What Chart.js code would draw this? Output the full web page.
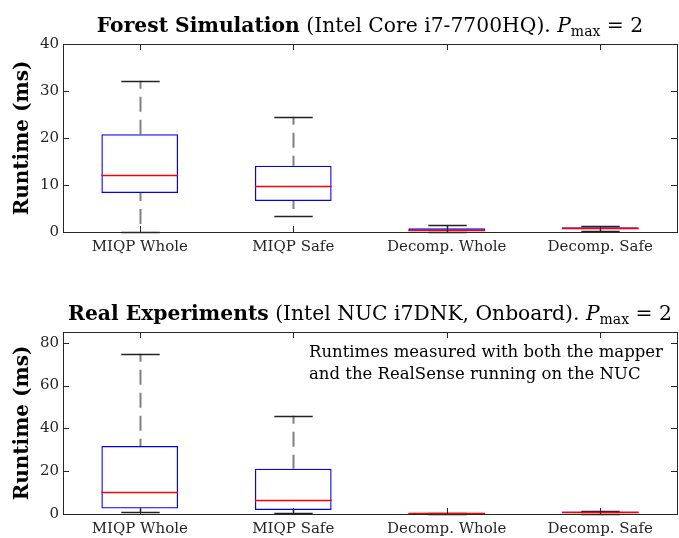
<!DOCTYPE html>
<html>
<head>
<meta charset="utf-8">
<script src="https://cdn.jsdelivr.net/npm/chart.js@4.4.1/dist/chart.umd.min.js"></script>
<style>
  html, body { margin: 0; padding: 0; background: #fff; }
  #wrap { position: relative; width: 679px; height: 538px; font-family: "DejaVu Serif", serif; }
  .box { position: absolute; left: 0; width: 679px; }
  .title { position: absolute; left: 63px; width: 614px; text-align: center; font-size: 20.3px; line-height: 24px; color: #000; white-space: nowrap; }
  .title b { font-weight: bold; }
  .title sub { font-size: 14px; vertical-align: -4px; line-height: 0; }
  .note { position: absolute; left: 309px; top: 341px; font-size: 16.5px; line-height: 22px; color: #000; }
</style>
</head>
<body>
<div id="wrap">
  <div class="box" style="top:0;height:262px"><canvas id="simChart"></canvas></div>
  <div class="box" style="top:262px;height:276px"><canvas id="realChart"></canvas></div>
  <div class="title" style="top:13px"><b>Forest Simulation</b> (Intel Core i7-7700HQ). <i>P</i><sub>max</sub> = 2</div>
  <div class="title" style="top:301px"><b>Real Experiments</b> (Intel NUC i7DNK, Onboard). <i>P</i><sub>max</sub> = 2</div>
  <div class="note">Runtimes measured with both the mapper<br>and the RealSense running on the NUC</div>
</div>
<script>
const categories = ['MIQP Whole', 'MIQP Safe', 'Decomp. Whole', 'Decomp. Safe'];

// Forest simulation (ms)
const simLow = [0.1, 3.5, 0.0, 0.2];
const simQ1 = [8.3, 6.6, 0.2, 0.6];
const simMedian = [12.1, 9.8, 0.5, 0.8];
const simQ3 = [20.8, 14.1, 0.8, 1.0];
const simHigh = [32.2, 24.5, 1.4, 1.3];
const simTicks = [0, 10, 20, 30, 40];

// Real experiments (ms)
const realLow = [1.1, 0.6, 0.0, 0.2];
const realQ1 = [2.6, 1.9, 0.1, 0.5];
const realMedian = [10.3, 6.5, 0.4, 0.9];
const realQ3 = [31.8, 21.1, 0.5, 1.2];
const realHigh = [74.9, 45.9, 0.5, 1.5];
const realTicks = [0, 20, 40, 60, 80];

const axisColor = '#262626';
Chart.defaults.font.family = '"DejaVu Serif", serif';
Chart.defaults.color = axisColor;

// whiskers, medians and the MATLAB style frame
const boxPlotParts = {
    id: 'boxPlotParts',
    beforeDatasetsDraw(chart, args, opts) {
        const { ctx, scales: { x, y } } = chart;
        const step = x.getPixelForValue(1) - x.getPixelForValue(0);
        ctx.save();
        opts.low.forEach((lo, i) => {
            const cx = Math.round(x.getPixelForValue(i)) + 0.5;
            const yLo = y.getPixelForValue(lo), yHi = y.getPixelForValue(opts.high[i]);
            const yQ1 = y.getPixelForValue(opts.q1[i]), yQ3 = y.getPixelForValue(opts.q3[i]);
            ctx.strokeStyle = '#808080';
            ctx.lineWidth = 2;
            ctx.setLineDash([15, 8]);
            ctx.lineDashOffset = 7;
            ctx.beginPath();
            ctx.moveTo(cx, yHi); ctx.lineTo(cx, yQ3);
            ctx.moveTo(cx, yQ1); ctx.lineTo(cx, yLo);
            ctx.stroke();
            ctx.setLineDash([]);
            ctx.strokeStyle = '#222';
            ctx.lineWidth = 1.3;
            ctx.beginPath();
            ctx.moveTo(cx - step / 8, Math.round(yHi) + 0.5); ctx.lineTo(cx + step / 8, Math.round(yHi) + 0.5);
            ctx.moveTo(cx - step / 8, Math.round(yLo) + 0.5); ctx.lineTo(cx + step / 8, Math.round(yLo) + 0.5);
            ctx.stroke();
        });
        ctx.restore();
    },
    afterDatasetsDraw(chart, args, opts) {
        const { ctx, scales: { x, y } } = chart;
        const step = x.getPixelForValue(1) - x.getPixelForValue(0);
        ctx.save();
        ctx.strokeStyle = '#ff0000';
        ctx.lineWidth = 1.3;
        opts.median.forEach((m, i) => {
            const cx = x.getPixelForValue(i);
            const my = Math.round(y.getPixelForValue(m)) + 0.5;
            ctx.beginPath();
            ctx.moveTo(cx - step / 4, my); ctx.lineTo(cx + step / 4, my);
            ctx.stroke();
        });
        ctx.restore();
    },
    afterDraw(chart) {
        const { ctx, chartArea: a, scales: { x, y } } = chart;
        ctx.save();
        ctx.strokeStyle = axisColor;
        ctx.lineWidth = 1;
        ctx.strokeRect(Math.round(a.left) + 0.5, Math.round(a.top) + 0.5, Math.round(a.width), Math.round(a.height));
        ctx.beginPath();
        y.ticks.forEach(t => {
            const py = Math.round(y.getPixelForValue(t.value)) + 0.5;
            ctx.moveTo(a.left, py); ctx.lineTo(a.left + 6, py);
            ctx.moveTo(a.right, py); ctx.lineTo(a.right - 6, py);
        });
        x.ticks.forEach((t, i) => {
            const px = Math.round(x.getPixelForValue(i)) + 0.5;
            ctx.moveTo(px, a.bottom); ctx.lineTo(px, a.bottom - 6);
            ctx.moveTo(px, a.top); ctx.lineTo(px, a.top + 6);
        });
        ctx.stroke();
        ctx.restore();
    }
};

function makeChart(id, low, q1, median, q3, high, yMax, tickValues, padTop, xHeight) {
    return new Chart(document.getElementById(id), {
        type: 'bar',
        data: {
            labels: categories,
            datasets: [{
                data: categories.map((c, i) => [q1[i], q3[i]]),
                backgroundColor: 'rgba(0,0,0,0)',
                borderColor: '#0000ff',
                borderWidth: 1.3,
                borderSkipped: false,
                barPercentage: 0.5,
                categoryPercentage: 1.0
            }]
        },
        options: {
            responsive: true,
            maintainAspectRatio: false,
            animation: false,
            layout: { padding: { top: padTop, right: 2, left: 0, bottom: 0 } },
            plugins: {
                legend: { display: false },
                tooltip: { enabled: false },
                boxPlotParts: { low, q1, median, q3, high }
            },
            scales: {
                x: {
                    offset: true,
                    grid: { drawOnChartArea: false, drawTicks: false, color: 'rgba(0,0,0,0)' },
                    border: { display: false },
                    ticks: { font: { size: 15 }, padding: 6, maxRotation: 0, autoSkip: false },
                    afterFit(scale) { scale.height = xHeight; }
                },
                y: {
                    min: 0,
                    max: yMax,
                    afterBuildTicks(scale) { scale.ticks = tickValues.map(v => ({ value: v })); },
                    grid: { drawOnChartArea: false, drawTicks: false, color: 'rgba(0,0,0,0)' },
                    border: { display: false },
                    ticks: { font: { size: 15 }, padding: 4 },
                    title: {
                        display: true,
                        text: 'Runtime (ms)',
                        color: '#000',
                        font: { size: 20, weight: 'bold' },
                        padding: { top: 11, bottom: 0 }
                    },
                    afterFit(scale) { scale.width = 63; }
                }
            }
        },
        plugins: [boxPlotParts]
    });
}

makeChart('simChart', simLow, simQ1, simMedian, simQ3, simHigh, 40, simTicks, 44, 30);
makeChart('realChart', realLow, realQ1, realMedian, realQ3, realHigh, 85, realTicks, 70, 24);
</script>
</body>
</html>
